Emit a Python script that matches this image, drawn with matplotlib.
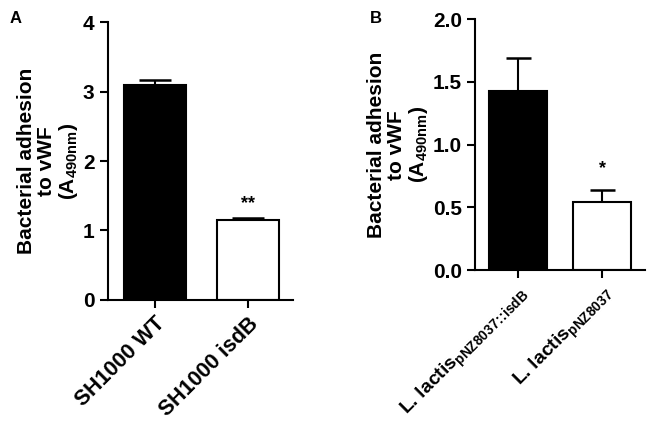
import matplotlib
matplotlib.use("Agg")
import matplotlib.pyplot as plt
import numpy as np

plt.rcParams['font.family'] = ['Liberation Sans', 'DejaVu Sans']
plt.rcParams['font.weight'] = 'bold'
plt.rcParams['mathtext.fontset'] = 'custom'
plt.rcParams['mathtext.rm'] = 'Liberation Sans:bold'
plt.rcParams['mathtext.it'] = 'Liberation Sans:bold'
plt.rcParams['mathtext.bf'] = 'Liberation Sans:bold'

# panel A data
labels_a = ['SH1000 WT', 'SH1000 isdB']
means_a = [3.09, 1.15]
errs_a = [0.08, 0.03]
sig_a = ['', '**']

# panel B data
labels_b = [r'L. lactis$_{\mathrm{pNZ8037\!:\!\!:\!isdB}}$', r'L. lactis$_{\mathrm{pNZ8037}}$']
means_b = [1.43, 0.54]
errs_b = [0.26, 0.10]
sig_b = ['', '*']

colors = ['black', 'white']
ylab = 'Bacterial adhesion\nto vWF\n(A$_{\\mathrm{490nm}}$)'

fig = plt.figure(figsize=(6.49, 4.26), dpi=100)
ax1 = fig.add_axes([0.166, 0.296, 0.285, 0.652])
ax2 = fig.add_axes([0.732, 0.366, 0.262, 0.589])


def panel(ax, means, errs, sig, labels, ymax, yticks, yfmt, width, xlim, star_off, cap, xfs):
    x = np.arange(len(means))
    ax.bar(x, means, width=width, color=colors, edgecolor='black', linewidth=1.5, zorder=2)
    for xi, m, e in zip(x, means, errs):
        ax.errorbar(xi, m, yerr=[[0], [e]], color='black', capsize=cap, capthick=1.8,
                    elinewidth=1.5, zorder=1)
    for xi, m, e, s in zip(x, means, errs, sig):
        if s:
            ax.text(xi, m + e + star_off, s, ha='center', va='bottom', fontsize=13)
    ax.set_ylim(0, ymax)
    ax.set_xlim(*xlim)
    ax.set_yticks(yticks)
    ax.set_yticklabels([yfmt.format(t) for t in yticks], fontsize=15, fontweight='bold')
    ax.set_xticks(x)
    ax.set_xticklabels(labels, rotation=45, ha='right', rotation_mode='anchor',
                       fontsize=xfs, fontweight='bold')
    for sp in ['top', 'right']:
        ax.spines[sp].set_visible(False)
    for sp in ['left', 'bottom']:
        ax.spines[sp].set_linewidth(1.5)
    ax.tick_params(width=1.5, length=6, direction='out')
    ax.set_ylabel(ylab, fontsize=15, fontweight='bold', linespacing=1.05, labelpad=2)


panel(ax1, means_a, errs_a, sig_a, labels_a, 4, [0, 1, 2, 3, 4], '{:.0f}', 0.67,
      (-0.505, 1.48), 0.08, 11.5, 15.5)
panel(ax2, means_b, errs_b, sig_b, labels_b, 2.0, [0.0, 0.5, 1.0, 1.5, 2.0], '{:.1f}', 0.69,
      (-0.51, 1.51), 0.1, 9, 14)

fig.text(0.015, 0.975, 'A', fontsize=12, fontweight='bold', va='top')
fig.text(0.57, 0.975, 'B', fontsize=12, fontweight='bold', va='top')

fig.savefig('out.png', dpi=100)
